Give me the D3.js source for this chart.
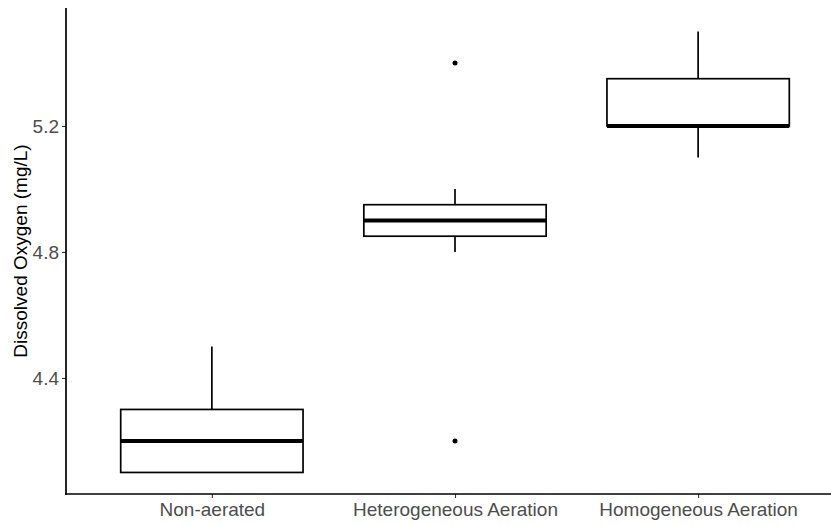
<!DOCTYPE html>
<html>
<head>
<meta charset="utf-8">
<script src="https://cdn.jsdelivr.net/npm/d3@7"></script>
<style>
  body { margin: 0; background: #fff; }
  text { font-family: "Liberation Sans", Arial, sans-serif; }
</style>
</head>
<body>
<svg id="chart" width="831" height="525"></svg>
<script>
var categories = ["Non-aerated", "Heterogeneous Aeration", "Homogeneous Aeration"];
var whiskerLow = [4.1, 4.8, 5.1];
var q1 = [4.1, 4.85, 5.2];
var medians = [4.2, 4.9, 5.2];
var q3 = [4.3, 4.95, 5.35];
var whiskerHigh = [4.5, 5.0, 5.5];
var outliers = [[], [5.4, 4.2], []];
var yTicks = [4.4, 4.8, 5.2];

var svg = d3.select("#chart");
var margin = {left: 66, top: 8, bottom: 31};
var height = 525;
var axisY = height - margin.bottom;

var boxes = categories.map(function(c, i) {
  return {name: c, lo: whiskerLow[i], q1: q1[i], med: medians[i], q3: q3[i], hi: whiskerHigh[i], out: outliers[i]};
});

var xScale = d3.scalePoint()
  .domain(categories)
  .range([66, 844])
  .padding(0.6);
var step = xScale.step();
var boxW = step * 0.75;

var yScale = d3.scaleLinear()
  .domain([4.03, 5.57])
  .range([494.5, 9.4]);

var g = svg.append("g");

// whiskers
g.selectAll("line.whisk-hi")
  .data(boxes).enter().append("line")
  .attr("x1", function(d) { return xScale(d.name); })
  .attr("x2", function(d) { return xScale(d.name); })
  .attr("y1", function(d) { return yScale(d.q3); })
  .attr("y2", function(d) { return yScale(d.hi); })
  .attr("stroke", "#000").attr("stroke-width", 1.7);

g.selectAll("line.whisk-lo")
  .data(boxes).enter().append("line")
  .attr("x1", function(d) { return xScale(d.name); })
  .attr("x2", function(d) { return xScale(d.name); })
  .attr("y1", function(d) { return yScale(d.q1); })
  .attr("y2", function(d) { return yScale(d.lo); })
  .attr("stroke", "#000").attr("stroke-width", 1.7);

// boxes
g.selectAll("rect.box")
  .data(boxes).enter().append("rect")
  .attr("x", function(d) { return xScale(d.name) - boxW / 2; })
  .attr("width", boxW)
  .attr("y", function(d) { return yScale(d.q3); })
  .attr("height", function(d) { return yScale(d.q1) - yScale(d.q3); })
  .attr("fill", "#fff")
  .attr("stroke", "#000")
  .attr("stroke-width", 1.7);

// medians
g.selectAll("line.median")
  .data(boxes).enter().append("line")
  .attr("x1", function(d) { return xScale(d.name) - boxW / 2; })
  .attr("x2", function(d) { return xScale(d.name) + boxW / 2; })
  .attr("y1", function(d) { return yScale(d.med); })
  .attr("y2", function(d) { return yScale(d.med); })
  .attr("stroke", "#000").attr("stroke-width", 4);

// outliers
boxes.forEach(function(b) {
  g.selectAll(null)
    .data(b.out).enter().append("circle")
    .attr("cx", xScale(b.name))
    .attr("cy", function(v) { return yScale(v); })
    .attr("r", 2.5)
    .attr("fill", "#000");
});

// axes
var yAxis = d3.axisLeft(yScale).tickValues(yTicks).tickSize(4).tickPadding(3)
  .tickFormat(d3.format(".1f"));
var yg = svg.append("g").attr("transform", "translate(" + margin.left + ",0)").call(yAxis);
yg.select(".domain").remove();
yg.selectAll(".tick line").attr("stroke", "#333").attr("stroke-width", 1.1);
yg.selectAll(".tick text").attr("fill", "#4d4d4d").style("font-size", "19px");

var xAxis = d3.axisBottom(xScale).tickSize(4).tickPadding(5);
var xg = svg.append("g").attr("transform", "translate(0," + axisY + ")").call(xAxis);
xg.select(".domain").remove();
xg.selectAll(".tick line").attr("stroke", "#333").attr("stroke-width", 1.1);
xg.selectAll(".tick text").attr("fill", "#4d4d4d").style("font-size", "19px");

// axis lines
svg.append("line")
  .attr("x1", margin.left).attr("x2", margin.left)
  .attr("y1", margin.top).attr("y2", axisY + 0.85)
  .attr("stroke", "#000").attr("stroke-width", 1.7);
svg.append("line")
  .attr("x1", margin.left - 0.85).attr("x2", 831)
  .attr("y1", axisY).attr("y2", axisY)
  .attr("stroke", "#000").attr("stroke-width", 1.7);

// y title
svg.append("text")
  .attr("transform", "translate(27," + ((margin.top + axisY) / 2) + ") rotate(-90)")
  .attr("text-anchor", "middle")
  .style("font-size", "19px")
  .attr("fill", "#000")
  .text("Dissolved Oxygen (mg/L)");
</script>
</body>
</html>
